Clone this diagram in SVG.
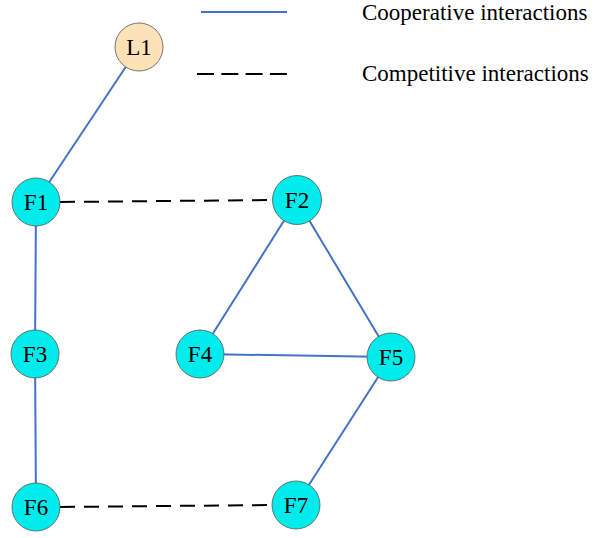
<svg xmlns="http://www.w3.org/2000/svg" width="595" height="538" viewBox="0 0 595 538">
<style>
.node{fill:#00EBEB;stroke:#555;stroke-width:0.8}
.lead{fill:#FCE2B6;stroke:#555;stroke-width:0.8}
.lbl{font-family:"Liberation Serif",serif;font-size:23px;fill:#000;text-anchor:middle;dominant-baseline:central}
.leg{font-family:"Liberation Serif",serif;font-size:23px;fill:#000}
.coop{stroke:#4472C4;stroke-width:2;fill:none}
.comp{stroke:#000;stroke-width:2;stroke-dasharray:15 9;fill:none}
</style>
<rect width="595" height="538" fill="#fff"/>
<g id="legend">
<line class="coop" x1="201" y1="12" x2="287" y2="12"/>
<line class="comp" x1="197" y1="74" x2="287" y2="74" style="stroke-dasharray:17 7.3"/>
<text class="leg" x="362" y="20">Cooperative interactions</text>
<text class="leg" x="362" y="81">Competitive interactions</text>
</g>
<g id="connectors">
<line class="coop" x1="139" y1="47" x2="36" y2="202"/>
<line class="comp" x1="60" y1="202" x2="273" y2="200"/>
<line class="coop" x1="36" y1="202" x2="35" y2="354"/>
<line class="coop" x1="35" y1="354" x2="36" y2="507"/>
<line class="coop" x1="297" y1="200" x2="200" y2="354"/>
<line class="coop" x1="297" y1="200" x2="391" y2="357"/>
<line class="coop" x1="200" y1="354" x2="391" y2="357"/>
<line class="coop" x1="391" y1="357" x2="296" y2="505"/>
<line class="comp" x1="60" y1="507" x2="272" y2="505"/>
</g>
<g id="L1"><circle class="lead" cx="139" cy="47" r="24"/><text class="lbl" x="139" y="47">L1</text></g>
<g id="F1"><circle class="node" cx="36" cy="202" r="24"/><text class="lbl" x="36" y="202">F1</text></g>
<g id="F2"><circle class="node" cx="297" cy="200" r="24.5"/><text class="lbl" x="297" y="200">F2</text></g>
<g id="F3"><circle class="node" cx="35" cy="354" r="24"/><text class="lbl" x="35" y="354">F3</text></g>
<g id="F4"><circle class="node" cx="200" cy="354" r="24"/><text class="lbl" x="200" y="354">F4</text></g>
<g id="F5"><circle class="node" cx="391" cy="357" r="24"/><text class="lbl" x="391" y="357">F5</text></g>
<g id="F6"><circle class="node" cx="36" cy="507" r="24"/><text class="lbl" x="36" y="507">F6</text></g>
<g id="F7"><circle class="node" cx="296" cy="505" r="24"/><text class="lbl" x="296" y="505">F7</text></g>
</svg>
